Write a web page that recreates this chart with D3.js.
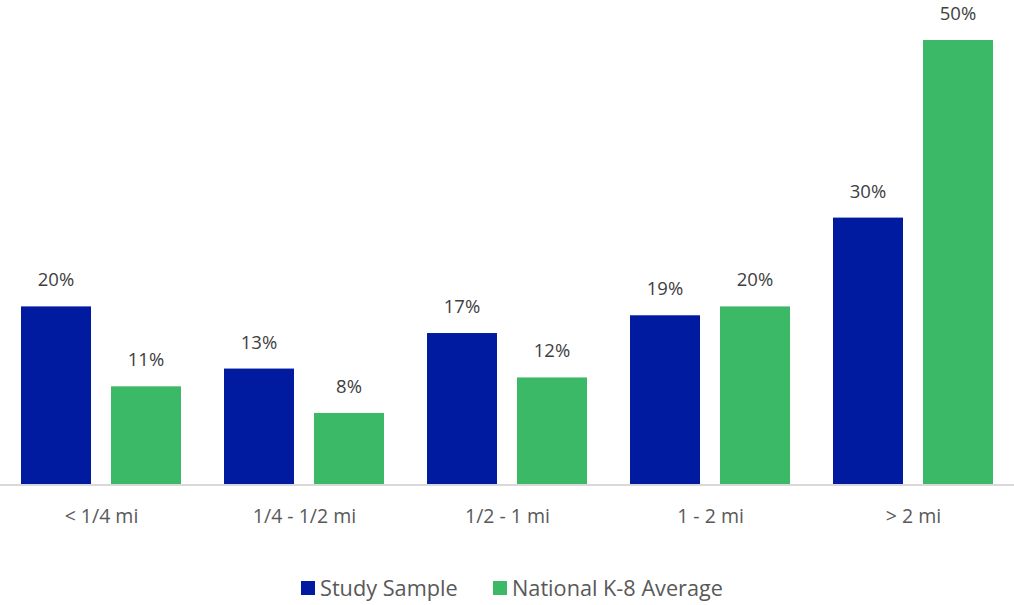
<!DOCTYPE html>
<html>
<head>
<meta charset="utf-8">
<script src="https://cdn.jsdelivr.net/npm/d3@7"></script>
<style>
  html, body { margin: 0; padding: 0; background: #fff; }
  svg { display: block; font-family: "Open Sans", "Noto Sans", sans-serif; }
</style>
</head>
<body>
<svg id="chart" width="1014" height="605"></svg>
<script>
// Distance-to-school categories and shares (%)
const categories = ["< 1/4 mi", "1/4 - 1/2 mi", "1/2 - 1 mi", "1 - 2 mi", "> 2 mi"];
const seriesNames = ["Study Sample", "National K-8 Average"];
const studySample = [20, 13, 17, 19, 30];
const nationalAverage = [11, 8, 12, 20, 50];
const colors = ["#001AA0", "#3BB966"];

const rows = categories.map((c, i) => ({
  category: c,
  values: [studySample[i], nationalAverage[i]]
}));

const svg = d3.select("#chart");
const baseY = 484;

const x0 = d3.scaleBand().domain(categories).range([0, 1015]).paddingInner(0).paddingOuter(0);
const x1 = d3.scaleBand().domain(seriesNames).range([21, 181]).paddingInner(20 / 90).paddingOuter(0);
const y = d3.scaleLinear().domain([0, 50]).range([baseY, 40]);

const groups = svg.selectAll("g.group")
  .data(rows)
  .enter().append("g")
  .attr("class", "group")
  .attr("transform", d => `translate(${x0(d.category)},0)`);

groups.selectAll("rect")
  .data(d => d.values.map((v, j) => ({ name: seriesNames[j], value: v, j })))
  .enter().append("rect")
  .attr("x", d => x1(d.name))
  .attr("width", x1.bandwidth())
  .attr("y", d => y(d.value))
  .attr("height", d => baseY - y(d.value))
  .attr("fill", d => colors[d.j]);

groups.selectAll("text.val")
  .data(d => d.values.map((v, j) => ({ name: seriesNames[j], value: v })))
  .enter().append("text")
  .attr("class", "val")
  .attr("x", d => x1(d.name) + x1.bandwidth() / 2)
  .attr("y", d => y(d.value) - 20)
  .attr("text-anchor", "middle")
  .attr("font-size", 18.5)
  .attr("fill", "#404040")
  .text(d => d.value + "%");

// Category axis
const xAxis = svg.append("g")
  .attr("transform", `translate(0,${baseY})`)
  .call(d3.axisBottom(x0).tickSize(0).tickPadding(25));
xAxis.select(".domain").attr("stroke", "#d9d9d9").attr("stroke-width", 2)
  .attr("d", "M0,1H1014");
xAxis.selectAll("text")
  .attr("font-size", 19.5)
  .attr("fill", "#595959")
  .attr("font-family", "\"Open Sans\", \"Noto Sans\", sans-serif");

// Legend
const legendX = [301, 493];
const legend = svg.selectAll("g.legend")
  .data(seriesNames)
  .enter().append("g")
  .attr("class", "legend")
  .attr("transform", (d, i) => `translate(${legendX[i]},581)`);
legend.append("rect")
  .attr("width", 14).attr("height", 14)
  .attr("fill", (d, i) => colors[i]);
legend.append("text")
  .attr("x", 19).attr("y", 15)
  .attr("font-size", 21.7)
  .attr("fill", "#595959")
  .text(d => d);
</script>
</body>
</html>
